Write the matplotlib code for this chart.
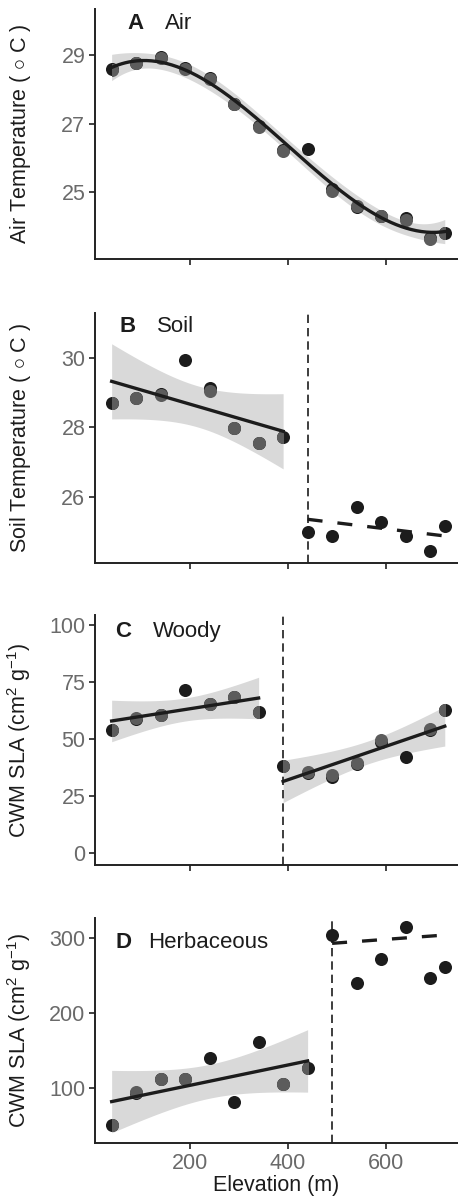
import numpy as np
import matplotlib
matplotlib.use("Agg")
import matplotlib.pyplot as plt
from matplotlib.patches import Rectangle

plt.rcParams['font.family'] = ['Liberation Sans', 'DejaVu Sans']
plt.rcParams['mathtext.fontset'] = 'custom'
plt.rcParams['mathtext.rm'] = 'Liberation Sans'
plt.rcParams['mathtext.it'] = 'Liberation Sans:italic'
plt.rcParams['mathtext.bf'] = 'Liberation Sans:bold'

# site elevations (m)
elevation = np.array([40, 90, 140, 190, 240, 290, 340, 390, 440, 490, 540, 590, 640, 690, 720])
nan = np.nan

# A - air temperature
air_black = [28.58, 28.76, 28.95, 28.62, 28.34, 27.57, 26.93, 26.24, 26.26, 25.10, 24.58, 24.32, 24.26, 23.67, 23.83]
air_gray = [28.56, 28.78, 28.90, 28.58, 28.29, 27.57, 26.89, 26.20, nan, 25.05, 24.60, 24.32, 24.19, 23.63, 23.83]

# B - soil temperature
soil_black = [28.70, 28.85, 28.97, 29.95, 29.12, 27.99, 27.54, 27.71, 24.98, 24.87, 25.71, 25.26, 24.87, 24.44, 25.16]
soil_gray = [28.70, 28.85, 28.93, nan, 29.05, 27.99, 27.54, 27.71, nan, nan, nan, nan, nan, nan, nan]
soil_break = 440
soil_dash_fit = [25.35, 24.87]   # non-significant trend above the break

# C - woody CWM SLA
woody_black = [54.2, 59.0, 60.8, 71.8, 65.5, 68.6, 61.9, 38.1, 35.2, 33.3, 39.0, 49.0, 42.2, 54.2, 62.7]
woody_gray = [54.2, 59.4, 60.8, nan, 65.5, 68.6, 61.9, 38.1, 35.6, 34.4, 39.6, 49.6, nan, 54.4, 62.7]
woody_break = 390

# D - herbaceous CWM SLA
herb_black = [50.1, 92.5, 112.0, 111.2, 139.4, 80.5, 161.6, 104.6, 126.0, 304.4, 239.8, 272.3, 314.7, 246.5, 262.0]
herb_gray = [50.1, 93.8, 112.0, 111.2, nan, nan, nan, 104.6, 126.0, nan, nan, nan, nan, nan, nan]
herb_break = 490
herb_dash_fit = [293.3, 304.4]

# t quantiles (0.975) by residual df
t975 = {5: 2.571, 6: 2.447, 7: 2.365, 11: 2.201}

BLACK = '#1c1c1c'
GRAY = '#5c5c5c'
RIBBON = '#d9d9d9'


def lm_band(x, y, deg, xs):
    x = np.asarray(x, float)
    y = np.asarray(y, float)
    c, sc = x.mean(), 100.0
    X = np.vander((x - c) / sc, deg + 1)
    coef = np.linalg.lstsq(X, y, rcond=None)[0]
    resid = y - X @ coef
    df = len(x) - deg - 1
    s2 = resid @ resid / df
    cov = s2 * np.linalg.inv(X.T @ X)
    Xs = np.vander((xs - c) / sc, deg + 1)
    se = np.sqrt(np.einsum('ij,jk,ik->i', Xs, cov, Xs))
    fit = Xs @ coef
    return fit, fit - t975[df] * se, fit + t975[df] * se


def smooth(ax, lo, hi, ys, deg=1):
    m = (elevation >= lo) & (elevation <= hi)
    xs = np.linspace(lo, hi, 200)
    fit, low, up = lm_band(elevation[m], np.asarray(ys)[m], deg, xs)
    ax.fill_between(xs, low, up, color=RIBBON, lw=0, zorder=1)
    return xs, fit


def points(ax, black, gray, ranges, ylim):
    ax.plot(elevation, black, 'o', color=BLACK, ms=9.4, mew=0, zorder=3)
    for lo, hi in ranges:
        pts, = ax.plot(elevation, gray, 'o', color=GRAY, ms=9.4, mew=0, zorder=4)
        clip = Rectangle((lo, ylim[0]), hi - lo, ylim[1] - ylim[0], transform=ax.transData)
        pts.set_clip_path(clip)


W, H = 458, 1200
fig = plt.figure(figsize=(W / 100, H / 100), dpi=100)


def make_axes(top, bottom, ylim, yticks):
    ax = fig.add_axes([95 / W, 1 - bottom / H, (W - 95) / W, (bottom - top) / H])
    ax.set_xlim(6, 747)
    ax.set_ylim(*ylim)
    ax.set_yticks(yticks)
    ax.set_xticks([200, 400, 600])
    for s in ['top', 'right']:
        ax.spines[s].set_visible(False)
    for s in ['left', 'bottom']:
        ax.spines[s].set_linewidth(1.4)
        ax.spines[s].set_color('#222222')
    ax.tick_params(length=4, width=1.3, color='#333333', labelsize=15.5, labelcolor='#6a6a6a', pad=3)
    ax.yaxis.set_label_coords(-0.172, 0.5)
    return ax


def label(ax, letter, word, x_letter, x_word, y):
    ax.text(x_letter, y, letter, fontsize=16, fontweight='bold', color=BLACK, va='baseline')
    ax.text(x_word, y, word, fontsize=16, color=BLACK, va='baseline')


lw_fit = 2.4
vline = dict(color='#1c1c1c', lw=1.2, linestyle=(0, (5, 3)), zorder=2)

# ---- A
ylimA = (23.06, 30.34)
axA = make_axes(9, 259, ylimA, [25, 27, 29])
xs, fit = smooth(axA, 40, 720, air_black, deg=3)
points(axA, air_black, air_gray, [(40, 720)], ylimA)
axA.plot(xs, fit, color=BLACK, lw=lw_fit, zorder=5)
axA.set_ylabel('Air Temperature ( $\\circ$ C )', fontsize=15.5, color=BLACK)
axA.set_xticklabels([])
label(axA, 'A', 'Air', 73, 149, 29.76)

# ---- B
ylimB = (24.10, 31.30)
axB = make_axes(312.7, 562.7, ylimB, [26, 28, 30])
xs, fit = smooth(axB, 40, 390, soil_black)
points(axB, soil_black, soil_gray, [(40, 390)], ylimB)
axB.plot(xs, fit, color=BLACK, lw=lw_fit, zorder=5)
axB.plot([soil_break, 720], soil_dash_fit, color=BLACK, lw=lw_fit, linestyle=(0, (4.5, 4.5)), zorder=5)
axB.axvline(soil_break, **vline)
axB.set_ylabel('Soil Temperature ( $\\circ$ C )', fontsize=15.5, color=BLACK)
axB.set_xticklabels([])
label(axB, 'B', 'Soil', 57, 133, 30.74)

# ---- C
ylimC = (-5.28, 104.6)
axC = make_axes(615, 865.3, ylimC, [0, 25, 50, 75, 100])
xs1, fit1 = smooth(axC, 40, 340, woody_black)
xs2, fit2 = smooth(axC, woody_break, 720, woody_black)
points(axC, woody_black, woody_gray, [(40, 340), (woody_break, 720)], ylimC)
axC.plot(xs1, fit1, color=BLACK, lw=lw_fit, zorder=5)
axC.plot(xs2, fit2, color=BLACK, lw=lw_fit, zorder=5)
axC.axvline(woody_break, **vline)
axC.set_ylabel('CWM SLA (cm$^{2}$ g$^{-1}$)', fontsize=15.5, color=BLACK)
axC.set_xticklabels([])
label(axC, 'C', 'Woody', 47, 124, 95.1)

# ---- D
ylimD = (25.6, 326.8)
axD = make_axes(918.3, 1143.3, ylimD, [100, 200, 300])
xs, fit = smooth(axD, 40, 440, herb_black)
points(axD, herb_black, herb_gray, [(40, 440)], ylimD)
axD.plot(xs, fit, color=BLACK, lw=lw_fit, zorder=5)
axD.plot([herb_break, 720], herb_dash_fit, color=BLACK, lw=lw_fit, linestyle=(0, (4.5, 4.5)), zorder=5)
axD.axvline(herb_break, **vline)
axD.set_ylabel('CWM SLA (cm$^{2}$ g$^{-1}$)', fontsize=15.5, color=BLACK)
axD.set_xlabel('Elevation (m)', fontsize=15.5, color=BLACK, labelpad=1)
label(axD, 'D', 'Herbaceous', 47, 114, 287)

fig.savefig('out.png', dpi=100)
